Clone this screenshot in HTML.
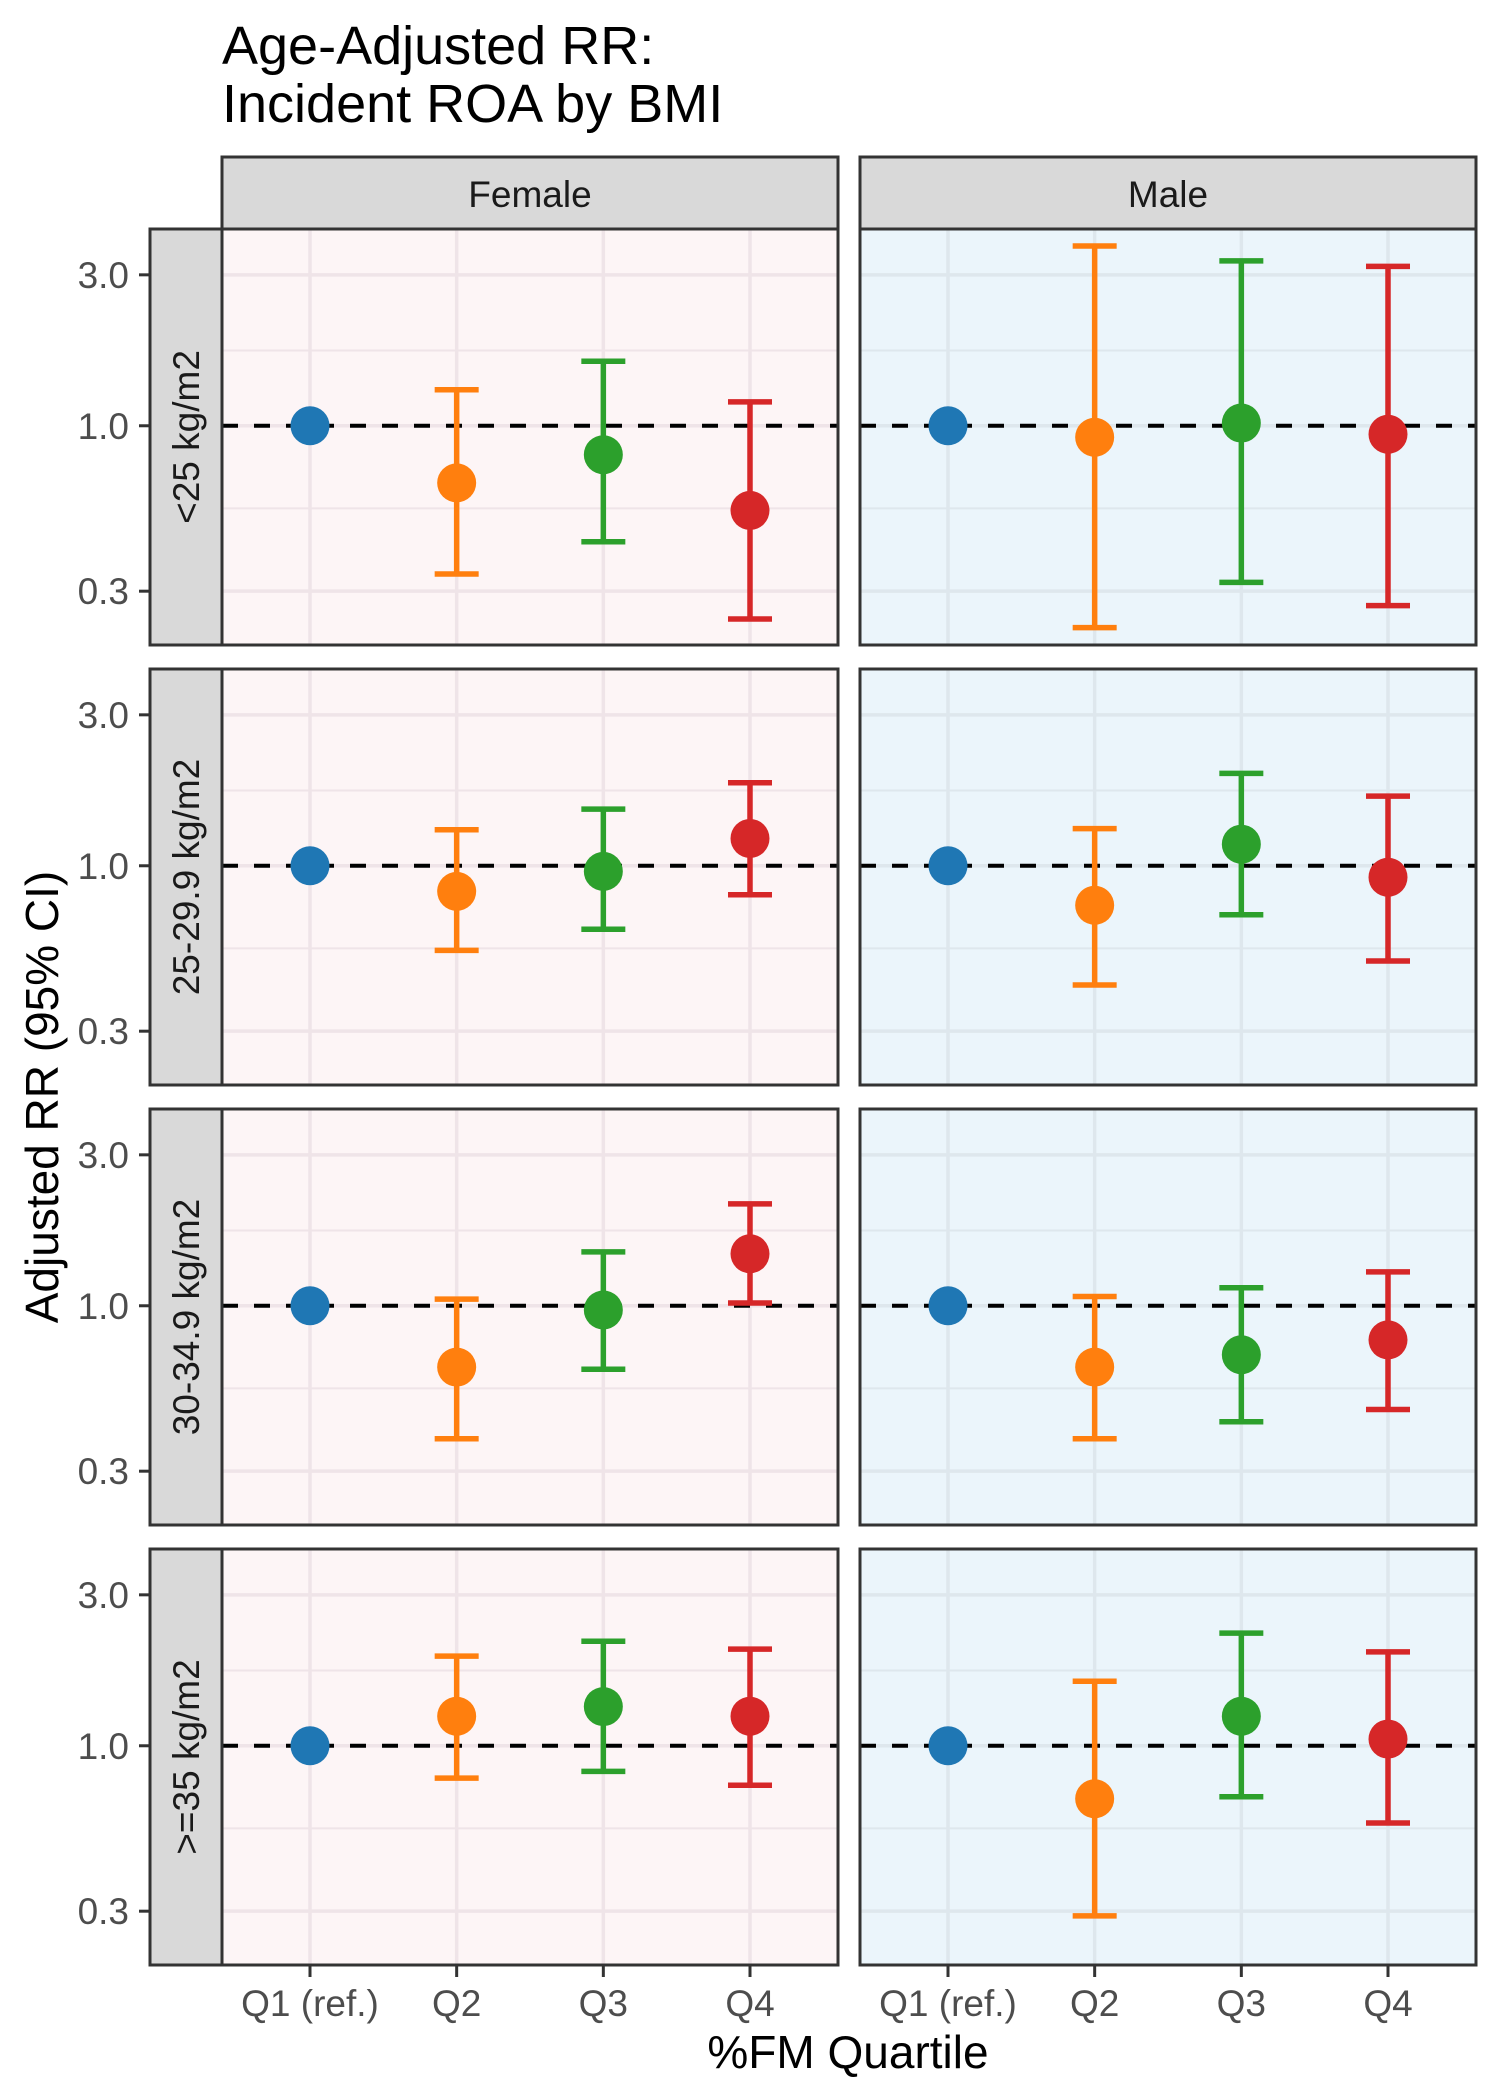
<!DOCTYPE html>
<html><head><meta charset="utf-8"><style>
html,body{margin:0;padding:0;background:#fff;}
svg{display:block;font-family:"Liberation Sans",Arial,sans-serif;}
</style></head><body>
<svg id="chart" width="1500" height="2100" viewBox="0 0 1500 2100" xmlns="http://www.w3.org/2000/svg">
<text x="222" y="64" font-size="54" fill="#000">Age-Adjusted RR:</text>
<text x="222" y="122" font-size="54" fill="#000">Incident ROA by BMI</text>
<text x="848" y="2068" font-size="46" text-anchor="middle" fill="#000">%FM Quartile</text>
<text transform="translate(58,1097) rotate(-90)" font-size="46" text-anchor="middle" fill="#000">Adjusted RR (95% CI)</text>
<g id="plot"></g>
</svg>
<script>
const categories = ["Q1 (ref.)", "Q2", "Q3", "Q4"];
const sexes = ["Female", "Male"];
const bmiGroups = ["<25 kg/m2", "25-29.9 kg/m2", "30-34.9 kg/m2", ">=35 kg/m2"];
const yTicks = [3.0, 1.0, 0.3];
const yTickLabels = ["3.0", "1.0", "0.3"];
const yMinor = [1.73, 0.548];
const rrFemale = [[1.0,0.66,0.81,0.54],[1.0,0.83,0.96,1.22],[1.0,0.64,0.97,1.46],[1.0,1.24,1.33,1.24]];
const loFemale = [[1.0,0.34,0.43,0.245],[1.0,0.54,0.63,0.81],[1.0,0.38,0.63,1.02],[1.0,0.79,0.83,0.75]];
const hiFemale = [[1.0,1.30,1.60,1.19],[1.0,1.30,1.51,1.83],[1.0,1.05,1.48,2.10],[1.0,1.92,2.14,2.02]];
const rrMale = [[1.0,0.92,1.02,0.94],[1.0,0.75,1.17,0.92],[1.0,0.64,0.70,0.78],[1.0,0.68,1.24,1.05]];
const loMale = [[1.0,0.23,0.32,0.27],[1.0,0.42,0.70,0.50],[1.0,0.38,0.43,0.47],[1.0,0.29,0.69,0.57]];
const hiMale = [[1.0,3.70,3.32,3.19],[1.0,1.31,1.96,1.66],[1.0,1.07,1.14,1.28],[1.0,1.60,2.27,1.98]];
const colors = ["#1f77b4","#ff7f0e","#2ca02c","#d62728"];

const NS="http://www.w3.org/2000/svg";
const plot=document.getElementById('plot');
function mk(tag,attrs,parent){const e=document.createElementNS(NS,tag);for(const k in attrs)e.setAttribute(k,attrs[k]);(parent||plot).appendChild(e);return e;}
const panelLeft=[222,860], panelW=616;
const panelTop=[229,669,1109,1549], panelH=416;
const logTop=0.622, logBot=-0.693;
function yScale(row,v){return panelTop[row]+(logTop-Math.log10(v))/(logTop-logBot)*panelH;}
function xScale(col,i){return panelLeft[col]+(i+0.6)/4.2*panelW;}
const fills=["#fdf5f6","#ebf5fb"], grids=["#efe4e8","#dee7ed"];

sexes.forEach((s,c)=>{
  const r=mk('rect',{x:panelLeft[c],y:157,width:panelW,height:72,fill:'#d9d9d9',stroke:'#333',"stroke-width":3});
  
  
  const t=mk('text',{x:panelLeft[c]+panelW/2,y:207,"font-size":37,"text-anchor":"middle",fill:'#1a1a1a'});
  t.textContent=s;
  
  
});

bmiGroups.forEach((g,row)=>{
  const rs=mk('rect',{x:150,y:panelTop[row],width:72,height:panelH,fill:'#d9d9d9',stroke:'#333',"stroke-width":3});
  
  
  const rt=mk('text',{transform:`translate(199,${panelTop[row]+panelH/2}) rotate(-90)`,"font-size":37,"text-anchor":"middle",fill:'#1a1a1a'});
  rt.textContent=g;
  
  
  yTicks.forEach((v,k)=>{
    const y=yScale(row,v);
    const tk=mk('line',{x1:139,x2:150,y1:y,y2:y,stroke:'#333',"stroke-width":3});
    
    
    const tl=mk('text',{x:129,y:y+13,"font-size":37,"text-anchor":"end",fill:'#4d4d4d'});
    tl.textContent=yTickLabels[k];
    
    
  });
  sexes.forEach((s,c)=>{
    const L=panelLeft[c],T=panelTop[row];
    const bg=mk('rect',{x:L,y:T,width:panelW,height:panelH,fill:fills[c]});
    
    
    yMinor.forEach(v=>{const y=yScale(row,v);const l=mk('line',{x1:L,x2:L+panelW,y1:y,y2:y,stroke:grids[c],"stroke-width":2});
      
      });
    yTicks.forEach(v=>{const y=yScale(row,v);const l=mk('line',{x1:L,x2:L+panelW,y1:y,y2:y,stroke:grids[c],"stroke-width":3.5});
      
      });
    categories.forEach((q,i)=>{const x=xScale(c,i);const l=mk('line',{x1:x,x2:x,y1:T,y2:T+panelH,stroke:grids[c],"stroke-width":3.5});
      
      });
    const ref=mk('line',{x1:L,x2:L+panelW,y1:yScale(row,1),y2:yScale(row,1),stroke:'#000',"stroke-width":4,"stroke-dasharray":"16 16"});
    
    
    const rr=c?rrMale:rrFemale, lo=c?loMale:loFemale, hi=c?hiMale:hiFemale;
    categories.forEach((q,i)=>{
      const x=xScale(c,i);
      if(i>0){
        const yl=yScale(row,lo[row][i]), yh=yScale(row,hi[row][i]);
        const g=mk('g',{stroke:colors[i],"stroke-width":5.5});
        
        
        mk('line',{x1:x,x2:x,y1:yl,y2:yh},g);
        mk('line',{x1:x-22,x2:x+22,y1:yl,y2:yl},g);
        mk('line',{x1:x-22,x2:x+22,y1:yh,y2:yh},g);
      }
      const p=mk('circle',{cx:x,cy:yScale(row,rr[row][i]),r:19.5,fill:colors[i]});
      
      
    });
    const br=mk('rect',{x:L,y:T,width:panelW,height:panelH,fill:'none',stroke:'#333',"stroke-width":3});
    
    
  });
});
sexes.forEach((s,c)=>{
  categories.forEach((q,i)=>{
    const x=xScale(c,i);
    const tk=mk('line',{x1:x,x2:x,y1:1966,y2:1977,stroke:'#333',"stroke-width":3});
    
    
    const t=mk('text',{x:x,y:2016,"font-size":37,"text-anchor":"middle",fill:'#4d4d4d'});
    t.textContent=q;
    
    
  });
});
</script>
</body></html>
